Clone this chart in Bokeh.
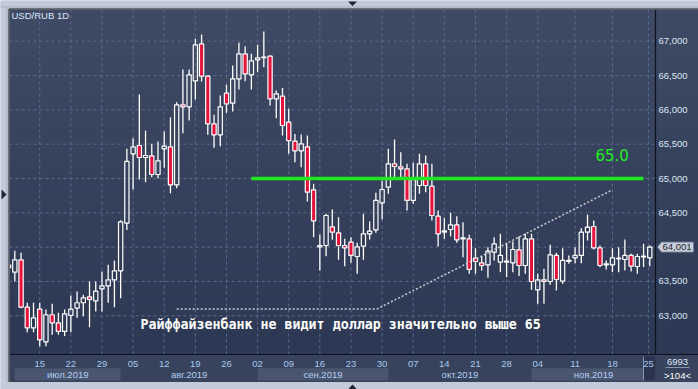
import numpy as np
from bokeh.plotting import figure
from bokeh.models import Range1d, ColumnDataSource
from bokeh.embed import file_html
from bokeh.resources import INLINE
from bokeh.core.properties import value

# ---- data (USD/RUB daily) ----
opens = [63.74, 63.636, 63.816, 63.126, 62.825, 63.097, 62.621, 63.015, 62.898, 62.772,
         63.005, 63.112, 63.19, 63.277, 63.218, 63.393, 63.437, 63.524, 63.655, 64.35,
         65.359, 65.481, 65.306, 65.33, 65.058, 65.432, 65.461, 64.908, 66.073, 66.044,
         66.422, 66.961, 66.49, 65.796, 65.636, 66.243, 66.097, 66.451, 66.816, 66.51,
         66.728, 66.76, 66.782, 66.16, 66.199, 65.82, 65.544, 65.403, 65.461, 64.835,
         64.005, 64.024, 64.296, 64.209, 64.024, 64.073, 63.864, 64.015, 64.194, 64.252,
         64.646, 64.874, 65.214, 65.17, 65.141, 64.68, 64.898, 65.214, 64.888, 64.451,
         64.218, 64.257, 64.325, 64.121, 64.121, 63.84, 63.772, 63.743, 63.927, 63.782,
         63.782, 63.772, 63.961, 63.733, 64.121, 63.379, 63.524, 63.5, 63.879, 63.505,
         63.791, 63.845, 63.879, 64.218, 64.301, 63.99, 63.743, 63.743, 63.83, 63.82,
         63.879, 63.718, 63.859, 63.845]
highs = [63.79, 63.947, 63.917, 63.19, 63.19, 63.19, 63.092, 63.175, 63.044, 63.092,
         63.296, 63.354, 63.306, 63.5, 63.5, 63.646, 63.743, 63.806, 64.393, 65.432,
         65.587, 66.223, 65.699, 65.505, 65.539, 65.684, 65.888, 66.112, 66.587, 66.587,
         67.034, 67.097, 66.5, 65.927, 66.209, 66.364, 66.646, 66.976, 66.927, 66.816,
         66.947, 67.141, 66.791, 66.282, 66.32, 66.015, 65.65, 65.641, 65.626, 64.922,
         64.184, 64.485, 64.549, 64.437, 64.121, 64.146, 64.063, 64.485, 64.374, 64.791,
         64.971, 65.432, 65.568, 65.383, 65.214, 65.228, 65.359, 65.335, 65.214, 64.534,
         64.427, 64.5, 64.451, 64.364, 64.18, 63.985, 63.869, 64.0, 64.146, 64.194,
         64.063, 64.083, 64.16, 64.194, 64.194, 63.612, 63.684, 64.034, 63.917, 63.985,
         63.879, 64.0, 64.277, 64.471, 64.388, 64.024, 63.806, 63.985, 64.0, 64.112,
         63.903, 63.903, 64.049, 64.024]
lows = [63.63, 63.5, 63.11, 62.762, 62.762, 62.558, 62.558, 62.723, 62.723, 62.704,
        62.762, 62.971, 62.995, 62.835, 63.063, 63.063, 63.19, 63.126, 63.257, 64.248,
        64.84, 64.985, 64.947, 65.02, 65.005, 65.155, 64.786, 64.859, 65.66, 65.845,
        66.15, 66.413, 65.636, 65.447, 65.471, 65.956, 65.976, 66.296, 66.417, 66.296,
        66.549, 66.621, 66.063, 65.879, 65.626, 65.359, 65.238, 65.165, 64.665, 64.146,
        63.66, 63.869, 64.107, 63.816, 63.723, 63.772, 63.612, 63.816, 64.112, 64.209,
        64.403, 64.777, 65.02, 64.995, 64.534, 64.631, 64.777, 64.801, 64.388, 64.01,
        64.121, 64.16, 64.063, 63.854, 63.612, 63.612, 63.66, 63.553, 63.806, 63.636,
        63.563, 63.636, 63.578, 63.612, 63.379, 63.175, 63.175, 63.451, 63.369, 63.466,
        63.757, 63.767, 63.767, 64.097, 63.966, 63.709, 63.675, 63.636, 63.636, 63.66,
        63.646, 63.612, 63.709, 63.722]
closes = [63.70, 63.816, 63.126, 62.825, 62.971, 62.65, 63.015, 62.898, 62.772, 63.029,
          63.097, 63.19, 63.262, 63.238, 63.359, 63.437, 63.524, 63.655, 64.369, 65.248,
          65.461, 65.306, 65.335, 65.058, 65.257, 65.471, 64.908, 66.073, 66.044, 66.51,
          66.947, 66.49, 65.796, 65.636, 66.044, 66.087, 66.451, 66.816, 66.524, 66.714,
          66.757, 66.77, 66.16, 66.233, 65.772, 65.553, 65.403, 65.505, 64.801, 64.383,
          64.024, 64.461, 64.218, 64.024, 63.99, 63.879, 64.005, 64.194, 64.233, 64.68,
          64.84, 65.214, 65.175, 65.141, 64.68, 64.985, 65.214, 64.898, 64.461, 64.194,
          64.238, 64.325, 64.107, 64.136, 63.675, 63.791, 63.733, 63.942, 64.049, 63.879,
          63.796, 63.966, 63.733, 64.121, 63.5, 63.524, 63.5, 63.888, 63.529, 63.806,
          63.806, 63.879, 64.218, 64.291, 63.99, 63.733, 63.757, 63.845, 63.84, 63.879,
          63.723, 63.864, 63.869, 64.001]

# x-axis: bar index of each labelled Monday and its day number
day_ticks = [5, 10, 15, 20, 25, 30, 35, 40, 45, 50, 55, 60, 65, 70, 75, 80, 85, 91, 97, 102.8]
day_labels = ["15", "22", "29", "05", "12", "19", "26", "02", "09", "16", "23", "30",
              "07", "14", "21", "28", "04", "11", "18", "25"]
month_names = ["июл.2019", "авг.2019", "сен.2019", "окт.2019", "ноя.2019"]
month_starts = [1, 18, 40, 61, 84]
price_ticks = [63.0, 63.5, 64.0, 64.5, 65.0, 65.5, 66.0, 66.5, 67.0]

resistance = 65.0
resistance_from, resistance_to = 39, 102
trend_x = [27, 59.2, 97]
trend_y = [63.1, 63.1, 64.835]
last_price = 64.001
bars_total = 6993
bars_shown = 104
title = "USD/RUB 1D"
note = "Райффайзенбанк не видит доллар значительно выше 65"

# ---- layout (pixels of the 698x389 window) ----
W, H = 698, 389
PX_BAR, PX_RUB = 6.225, 68.65          # pixels per bar, pixels per rouble
CH_L, CH_T = 9, 9                       # chart left / top edge
CH_R, CH_B = 655, 354                   # chart right edge / bottom edge
PANEL_B = 381.5                         # bottom of the time panel
X0 = -8.1 / PX_BAR                      # bar index at pixel 0
Y0 = 67 + 40.7 / PX_RUB                 # price at pixel 0


def xpx(px):
    return X0 + px / PX_BAR


def ypx(py):
    return Y0 - py / PX_RUB


xr = Range1d(xpx(0), xpx(W))
yr = Range1d(ypx(H), Y0)
x_chart_l, x_chart_r = xpx(CH_L), xpx(CH_R)
y_chart_t, y_chart_b = ypx(CH_T), ypx(CH_B)

p = figure(width=W, height=H, x_range=xr, y_range=yr, output_backend="svg",
           toolbar_location=None, x_axis_location=None, y_axis_location=None,
           min_border=0, min_border_left=0, min_border_top=0, min_border_right=0,
           min_border_bottom=0, border_fill_color="#c3cbd8", background_fill_color="#c3cbd8",
           outline_line_color=None)
p.xgrid.visible = False
p.ygrid.visible = False

# gradient background of chart + price panel
rows = 64
top_c = np.array([63, 75, 101]); bot_c = np.array([45, 57, 84])
img = np.zeros((rows, 1), dtype=np.uint32)
view = img.view(dtype=np.uint8).reshape((rows, 1, 4))
for r in range(rows):
    t = r / (rows - 1)
    view[r, 0, :3] = (bot_c + (top_c - bot_c) * t).astype(np.uint8)
    view[r, 0, 3] = 255
p.image_rgba(image=[img], x=x_chart_l, y=y_chart_b, dw=xr.end - x_chart_l, dh=y_chart_t - y_chart_b,
             level="image")

# time panel background and month bands
p.quad(left=[x_chart_l], right=[xr.end], bottom=[ypx(PANEL_B)], top=[y_chart_b], fill_color="#37435d",
       line_color=None)
ends = month_starts[1:] + [x_chart_r]
band_l = [a for i, a in enumerate(month_starts) if i % 2 == 0]
band_r = [b for i, b in enumerate(ends) if i % 2 == 0]
p.quad(left=band_l, right=band_r, bottom=ypx(380), top=ypx(367.7), fill_color="#4a5670",
       line_color=None)
# current-period marker box
p.quad(left=[xpx(643)], right=[x_chart_r], bottom=[ypx(380)], top=[ypx(356)], fill_color="#2a3450",
       line_color=None)
p.segment(x0=[xpx(643)], y0=[ypx(380)], x1=[xpx(643)], y1=[ypx(356)], line_color="#8894aa",
          line_width=1)

# grid (dashed)
p.segment(x0=day_ticks, y0=y_chart_b, x1=day_ticks, y1=y_chart_t, line_color="#5a6a8c",
          line_dash="3 3", line_width=1)
p.segment(x0=x_chart_l, y0=price_ticks, x1=x_chart_r, y1=price_ticks, line_color="#5a6a8c",
          line_dash="3 3", line_width=1)

# chart borders
p.segment(x0=[x_chart_r], y0=[y_chart_b], x1=[x_chart_r], y1=[y_chart_t], line_color="#0e121a",
          line_width=1.2)
p.segment(x0=[x_chart_l], y0=[y_chart_b], x1=[xr.end], y1=[y_chart_b], line_color="#0e121a",
          line_width=1.2)

# tick labels
lab_font = value("Liberation Sans")
price_txt = [f"{v:.3f}".replace(".", ",") for v in price_ticks]
p.text(x=x_chart_r, y=price_ticks, text=price_txt, x_offset=3, text_baseline="middle",
       text_align="left", text_color="#dbe6f2", text_font=lab_font, text_font_size="9.5px")
p.text(x=day_ticks, y=y_chart_b, text=day_labels, y_offset=9, text_baseline="middle",
       text_align="center", text_color="#a9c7ee", text_font=lab_font, text_font_size="9.5px")
month_centers = [(a + b) / 2 for a, b in zip(month_starts, ends)]
p.text(x=month_centers, y=y_chart_b, text=month_names, y_offset=20, text_baseline="middle",
       text_align="center", text_color="#b5cdef", text_font=lab_font, text_font_size="9.5px")

# corner info
p.text(x=[xpx(677)], y=[ypx(361)], text=[str(bars_total)], text_baseline="middle", text_align="center",
       text_color="#dbe6f2", text_font=lab_font, text_font_size="9.5px")
p.text(x=[xpx(677)], y=[ypx(374.5)], text=[f">{bars_shown}<"], text_baseline="middle",
       text_align="center", text_color="#ffffff", text_font=lab_font, text_font_size="9.5px")
p.segment(x0=[xpx(665)], y0=[ypx(367)], x1=[xpx(689)], y1=[ypx(367)], line_color="#8a94a8",
          line_width=1)

# ---- candles ----
N = len(opens)
x = list(range(N))
body_top = [max(o, c) for o, c in zip(opens, closes)]
body_bot = [min(o, c) for o, c in zip(opens, closes)]
fill = ["#e6123c" if c < o else None for o, c in zip(opens, closes)]
src = ColumnDataSource(dict(x=x, h=highs, l=lows, bt=body_top, bb=body_bot, fill=fill))
p.segment(x0="x", y0="bt", x1="x", y1="h", source=src, line_color="white", line_width=1.3)
p.segment(x0="x", y0="l", x1="x", y1="bb", source=src, line_color="white", line_width=1.3)
p.vbar(x="x", top="bt", bottom="bb", width=0.68, source=src, fill_color="fill",
       line_color="white", line_width=1.2)

# last price tag
h = 5 / PX_RUB
p.patch(x=[xpx(657), xpx(661), xpx(693), xpx(693), xpx(661)],
        y=[last_price, last_price + h, last_price + h, last_price - h, last_price - h],
        fill_color="#c8d0dc", line_color="#6f7c94", line_width=1)
p.text(x=[xpx(662)], y=[last_price], text=[f"{last_price:.3f}".replace(".", ",")],
       text_baseline="middle", text_align="left", text_color="#1c2330", text_font=lab_font,
       text_font_size="9.5px")

# resistance line and label
p.segment(x0=[resistance_from], y0=[resistance], x1=[resistance_to], y1=[resistance],
          line_color="#1ee81e", line_width=3.5)
p.text(x=[xpx(595)], y=[ypx(154)], text=[f"{resistance:.1f}"], text_baseline="middle",
       text_align="left", text_color="#22ee22", text_font=value("DejaVu Sans"),
       text_font_size="15px")
# trend line
p.line(trend_x, trend_y, line_color="#c8ccd4", line_width=1.5, line_dash="2 2")
# note
p.text(x=[xpx(140)], y=[ypx(324)], text=[note], text_baseline="middle", text_align="left",
       text_color="white", text_font=value("DejaVu Sans Mono"), text_font_size="13.3px",
       text_font_style="bold")
# title
p.text(x=[xpx(11)], y=[ypx(15)], text=[title], text_baseline="middle", text_align="left",
       text_color="#dce6f4", text_font=lab_font, text_font_size="9.5px")

# ---- window frame (light strips, edges and markers) ----
gray = "#c3cbd8"
p.quad(left=[xpx(0), xpx(0), xpx(0)], right=[xpx(W), x_chart_l, xpx(W)],
       bottom=[y_chart_t, ypx(H), ypx(H)], top=[ypx(0), ypx(0), ypx(PANEL_B)],
       fill_color=gray, line_color=None)
p.segment(x0=[xpx(0), xpx(6.5)], y0=[ypx(6.5), ypx(6.5)], x1=[xpx(W), xpx(6.5)],
          y1=[ypx(6.5), ypx(PANEL_B)], line_color="#a3afc0", line_width=1)
p.segment(x0=[xpx(8.5), xpx(8.5)], y0=[ypx(8.5), ypx(8.5)], x1=[xpx(W), xpx(8.5)],
          y1=[ypx(8.5), ypx(PANEL_B)], line_color="#10141c", line_width=1)
mk = "#1c2433"
p.patches(xs=[[xpx(347.5), xpx(356.5), xpx(352)],
              [xpx(347.5), xpx(356.5), xpx(352)],
              [xpx(1), xpx(1), xpx(6)]],
          ys=[[ypx(1), ypx(1), ypx(5.5)],
              [ypx(389), ypx(389), ypx(384)],
              [ypx(189), ypx(199), ypx(194)]],
          fill_color=mk, line_color=None)

open("out.html", "w").write(file_html(p, INLINE))
